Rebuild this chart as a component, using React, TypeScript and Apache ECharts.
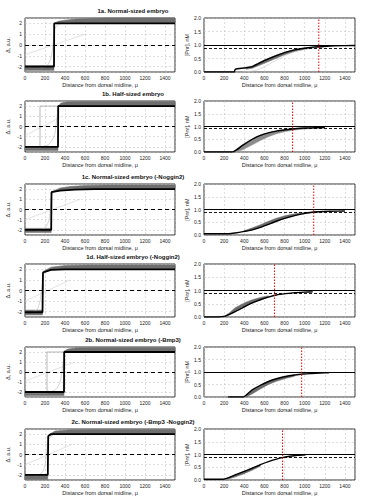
import React, { useEffect, useRef } from "react";
import * as echarts from "echarts";

// ---------- data ----------
const titles = [
  "1a. Normal-sized embryo",
  "1b. Half-sized embryo",
  "1c. Normal-sized embryo (-Noggin2)",
  "1d. Half-sized embryo (-Noggin2)",
  "2b. Normal-sized embryo (-Bmp3)",
  "2c. Normal-sized embryo (-Bmp3 -Noggin2)",
];
const xName = "Distance from dorsal midline, \u03bc";
const leftYName = "\u0394, a.u.";
const rightYName = "[Pnr], nM";
const xTickLabels = ["0", "200", "400", "600", "800", "1000", "1200", "1400"];
const deltaTickLabels = ["-2", "-1", "0", "1", "2"];
const concTickLabels = ["0.0", "0.5", "1.0", "1.5", "2.0"];
const deltaThreshold = 0;
const concSteady = 1.0;
const concRange = [0, 2];

// left column: Δ profiles (black = final)
const leftBlack = [
  [[0, -2], [290, -2], [292, 2], [1500, 2]],
  [[0, -2], [330, -2], [332, 2], [1500, 2]],
  [[0, -2], [262, -2], [265, 1.7], [350, 1.85], [500, 1.95], [700, 2], [1500, 2]],
  [[0, -2.05], [175, -2.05], [180, 1.7], [260, 1.95], [400, 2], [1500, 2]],
  [[0, -2], [390, -2], [392, 2], [1500, 2]],
  [[0, -2], [228, -2], [232, 1.8], [260, 2], [1500, 2]],
];
// [x, low, high]
const leftUpperBand = [
  [[292, 2, 2], [330, 2, 2.2], [400, 2, 2.3], [500, 2, 2.4], [650, 2, 2.45], [800, 2, 2.5], [1500, 2, 2.5]],
  [[332, 2, 2], [360, 2, 2.3], [420, 2, 2.42], [600, 2, 2.45], [1500, 2, 2.45]],
  [[265, 1.7, 1.75], [350, 1.85, 2.1], [450, 1.95, 2.25], [600, 2, 2.35], [800, 2, 2.4], [1500, 2, 2.4]],
  [[180, 1.7, 1.8], [260, 1.95, 2.2], [400, 2, 2.35], [600, 2, 2.4], [1500, 2, 2.4]],
  [[392, 2, 2.1], [430, 2, 2.3], [520, 2, 2.42], [700, 2, 2.45], [1500, 2, 2.45]],
  [[232, 1.8, 1.9], [300, 2, 2.3], [450, 2, 2.42], [700, 2, 2.45], [1500, 2, 2.45]],
];
const leftLowerBand = [
  [[0, -2.35, -1.9], [290, -2.35, -1.9]],
  [[0, -2.35, -2], [330, -2.35, -2]],
  [[0, -2.25, -1.85], [262, -2.25, -1.85]],
  [[0, -2.3, -1.85], [175, -2.3, -1.85]],
  [[0, -2.35, -2], [390, -2.35, -2]],
  [[0, -2.45, -2], [228, -2.45, -2]],
];
const leftInitial = [
  [[0, -0.9], [600, 1.0]],
  [[0, -0.9], [350, 0.9]],
  [[0, -1], [550, 1]],
  [[0, -1], [450, 1]],
  [[0, -0.9], [500, 1]],
  [[0, -1], [470, 1]],
];
const leftEarly = [
  [[150, -2.1], [220, -1.9], [260, -1.2], [280, 0], [295, 1.4], [330, 1.9], [450, 2.05]],
  [[150, -2], [230, -1.8], [290, -1], [315, 0.5], [330, 2]],
  [[120, -2.1], [200, -1.8], [240, -1], [258, 0.5], [270, 1.5], [330, 1.9]],
  [[60, -2.1], [120, -1.8], [150, -1], [170, 0.5], [185, 1.5], [240, 1.9]],
  [[220, -2], [300, -1.8], [350, -1], [375, 0.5], [390, 2]],
  [[100, -2.1], [170, -1.8], [200, -1], [220, 0.5], [235, 1.5], [280, 1.9]],
];
const leftMidStep = [
  null,
  [[0, -2.1], [150, -2.1], [150, 2], [330, 2]],
  null,
  null,
  [[0, -2.1], [220, -2.1], [220, 2], [390, 2]],
  null,
];

// right column: concentration profiles
const rightBlack = [
  [[0, 0], [300, 0], [310, 0.1], [400, 0.15], [480, 0.2], [600, 0.42], [700, 0.58], [800, 0.72], [900, 0.82], [1000, 0.88], [1100, 0.93], [1200, 0.95], [1300, 0.97], [1500, 0.98]],
  [[0, 0], [280, 0], [330, 0.1], [380, 0.25], [480, 0.5], [560, 0.65], [640, 0.75], [720, 0.82], [810, 0.87], [900, 0.91], [1000, 0.94], [1100, 0.95], [1200, 0.96]],
  [[0, 0.05], [250, 0.05], [310, 0.08], [400, 0.14], [480, 0.2], [560, 0.3], [640, 0.42], [720, 0.54], [810, 0.66], [900, 0.76], [980, 0.83], [1060, 0.88], [1140, 0.91], [1250, 0.93], [1400, 0.94]],
  [[0, 0], [140, 0], [210, 0.03], [310, 0.2], [410, 0.4], [480, 0.53], [560, 0.65], [640, 0.75], [720, 0.83], [810, 0.88], [900, 0.92], [1000, 0.94], [1080, 0.95]],
  [[240, 0], [390, 0], [420, 0.08], [477, 0.28], [560, 0.47], [640, 0.62], [720, 0.73], [810, 0.82], [900, 0.88], [980, 0.92], [1060, 0.94], [1150, 0.96], [1240, 0.97]],
  [[0, 0.03], [190, 0.03], [250, 0.1], [310, 0.2], [400, 0.34], [477, 0.46], [560, 0.6], [640, 0.72], [720, 0.82], [777, 0.88], [850, 0.93], [930, 0.97], [1010, 0.99]],
];
const rightBand = [
  [[420, 0.1, 0.18], [480, 0.14, 0.22], [600, 0.32, 0.45], [700, 0.48, 0.6], [800, 0.64, 0.73], [900, 0.76, 0.83], [1000, 0.84, 0.89], [1100, 0.9, 0.93], [1200, 0.93, 0.95]],
  [[300, 0, 0.05], [380, 0.08, 0.28], [480, 0.28, 0.52], [560, 0.45, 0.66], [640, 0.6, 0.76], [720, 0.72, 0.83], [810, 0.8, 0.88], [900, 0.86, 0.92], [1000, 0.9, 0.94], [1100, 0.93, 0.96], [1200, 0.95, 0.97]],
  [[400, 0.14, 0.17], [480, 0.2, 0.28], [560, 0.3, 0.4], [640, 0.42, 0.54], [720, 0.54, 0.66], [810, 0.66, 0.76], [900, 0.76, 0.83], [980, 0.83, 0.87], [1060, 0.88, 0.9], [1140, 0.91, 0.92]],
  [[210, 0.03, 0.05], [250, 0.08, 0.15], [310, 0.2, 0.35], [410, 0.4, 0.55], [480, 0.53, 0.65], [560, 0.65, 0.74], [640, 0.75, 0.8]],
  [[420, 0, 0.08], [477, 0.12, 0.28], [560, 0.32, 0.47], [640, 0.5, 0.62], [720, 0.63, 0.73], [810, 0.74, 0.82], [900, 0.83, 0.88]],
  [[190, 0.03, 0.03], [250, 0.05, 0.1], [310, 0.12, 0.2], [400, 0.25, 0.34], [477, 0.38, 0.46], [560, 0.54, 0.6]],
];
const rightEarly = [
  [[380, 0], [500, 0.05], [600, 0.2], [700, 0.4], [800, 0.6], [900, 0.75], [1000, 0.85]],
  null,
  null,
  null,
  null,
  null,
];
const redLineX = [1140, 880, 1090, 700, 970, 780];
const dashedLevel = [0.88, 0.93, 0.91, 0.88, null, 0.91];

// ---------- layout ----------
const rowTop = [18, 101, 184, 264, 347, 429];
const rowHeight = [54, 51, 51, 53, 50, 51];
const FONT = "Liberation Sans, Arial, sans-serif";

function bandSeries(axis: number, band: number[][], color: string) {
  return {
    type: "custom",
    xAxisIndex: axis,
    yAxisIndex: axis,
    data: band,
    encode: { x: 0, y: [1, 2] },
    silent: true,
    z: 1,
    renderItem: (params: any, api: any) => {
      if (params.dataIndexInside !== 0) return null;
      const top = band.map((p) => api.coord([p[0], p[2]]));
      const bot = band.slice().reverse().map((p) => api.coord([p[0], p[1]]));
      return {
        type: "polygon",
        shape: { points: top.concat(bot) },
        style: { fill: color, stroke: color, lineWidth: 0.5 },
      };
    },
  };
}

function lineSeries(axis: number, data: any, color: string, width: number, type: any = "solid", z = 2, extra: any = {}) {
  return {
    type: "line",
    xAxisIndex: axis,
    yAxisIndex: axis,
    data,
    symbol: "none",
    showSymbol: false,
    silent: true,
    z,
    color,
    lineStyle: { color, width, type },
    ...extra,
  };
}

function markSeries(axis: number, data: any[]) {
  return {
    type: "line",
    xAxisIndex: axis,
    yAxisIndex: axis,
    data: [],
    symbol: "none",
    silent: true,
    z: 5,
    markLine: { silent: true, symbol: "none", label: { show: false }, animation: false, data },
  };
}

function buildOption() {
  const grid: any[] = [];
  const xAxis: any[] = [];
  const yAxis: any[] = [];
  const series: any[] = [];
  const graphic: any[] = [];
  const splitLine = { show: true, lineStyle: { color: "#bdbdbd", type: [2, 2], width: 0.5 } };
  const labelStyle = { fontSize: 5, color: "#222", fontFamily: FONT };
  const nameStyle = { fontSize: 5.5, color: "#222", fontFamily: FONT };

  for (let r = 0; r < 6; r++) {
    graphic.push({
      type: "text",
      x: 133,
      y: rowTop[r] - 7,
      style: {
        text: titles[r],
        align: "center",
        verticalAlign: "middle",
        font: `bold 6px ${FONT}`,
        fill: "#111",
      },
    });
    const gl = 2 * r;
    const gr = 2 * r + 1;
    grid.push({ left: 25, width: 150, top: rowTop[r], height: rowHeight[r], show: true, borderColor: "#000", borderWidth: 0.8 });
    grid.push({ left: 204, width: 151, top: rowTop[r], height: rowHeight[r], show: true, borderColor: "#000", borderWidth: 0.8 });

    for (const g of [gl, gr]) {
      xAxis.push({
        gridIndex: g,
        type: "value",
        min: 0,
        max: 1500,
        interval: 200,
        name: xName,
        nameLocation: "middle",
        nameGap: 10,
        nameTextStyle: nameStyle,
        axisLine: { show: false },
        axisTick: { show: false },
        axisLabel: {
          ...labelStyle,
          margin: 3,
          showMaxLabel: false,
          formatter: (v: number) => xTickLabels[Math.round(v / 200)] ?? "",
        },
        splitLine,
      });
    }
    yAxis.push({
      gridIndex: gl,
      type: "value",
      min: -2.5,
      max: 2.5,
      splitNumber: 5,
      name: leftYName,
      nameLocation: "middle",
      nameGap: 14,
      nameTextStyle: nameStyle,
      axisLine: { show: false },
      axisTick: { show: false },
      axisLabel: {
        ...labelStyle,
        margin: 3,
        showMinLabel: false,
        showMaxLabel: false,
        formatter: (v: number) => {
          const i = deltaTickLabels.indexOf(String(v));
          return i >= 0 ? deltaTickLabels[i] : "";
        },
      },
      splitLine,
    });
    yAxis.push({
      gridIndex: gr,
      type: "value",
      min: concRange[0],
      max: concRange[1],
      interval: 0.5,
      name: rightYName,
      nameLocation: "middle",
      nameGap: 12,
      nameTextStyle: nameStyle,
      axisLine: { show: false },
      axisTick: { show: false },
      axisLabel: {
        ...labelStyle,
        margin: 3,
        formatter: (v: number) => concTickLabels[Math.round(v * 2)] ?? "",
      },
      splitLine,
    });

    // ----- left plot -----
    series.push(lineSeries(gl, leftInitial[r], "#cfcfcf", 0.6, "solid", 2));
    series.push(lineSeries(gl, leftEarly[r], "#b8b8b8", 0.6, "solid", 2, { smooth: 0.3 }));
    if (leftMidStep[r]) series.push(lineSeries(gl, leftMidStep[r], "#9a9a9a", 0.7, "solid", 2));
    series.push(bandSeries(gl, leftUpperBand[r], "#6e6e6e"));
    series.push(bandSeries(gl, leftLowerBand[r], "#6e6e6e"));
    series.push(lineSeries(gl, leftBlack[r], "#000", 1.8, "solid", 4));
    series.push(markSeries(gl, [{ yAxis: deltaThreshold, lineStyle: { color: "#000", width: 1.2, type: [4, 3] } }]));

    // ----- right plot -----
    if (rightEarly[r]) series.push(lineSeries(gr, rightEarly[r], "#c4c4c4", 0.6, "solid", 2, { smooth: 0.3 }));
    series.push(bandSeries(gr, rightBand[r], r === 1 ? "#8c8c8c" : "#6a6a6a"));
    series.push(lineSeries(gr, rightBlack[r], "#000", 1.4, "solid", 4, { smooth: 0.2 }));
    const ml: any[] = [{ yAxis: concSteady, lineStyle: { color: "#000", width: 1.1, type: "solid" } }];
    if (dashedLevel[r] != null) ml.push({ yAxis: dashedLevel[r], lineStyle: { color: "#000", width: 0.9, type: [3, 2] } });
    series.push(markSeries(gr, ml));
    series.push(
      lineSeries(
        gr,
        [[redLineX[r], concRange[0]], [redLineX[r], concRange[1]]],
        "#ff0000",
        1,
        [1.5, 1.5],
        6
      )
    );
  }

  return {
    animation: false,
    backgroundColor: "#fff",
    textStyle: { fontFamily: FONT },
    grid,
    xAxis,
    yAxis,
    series,
    graphic,
  };
}

export default function App() {
  const ref = useRef<HTMLDivElement>(null);
  useEffect(() => {
    if (!ref.current) return;
    const chart = echarts.init(ref.current, undefined, { renderer: "svg" });
    chart.setOption(buildOption() as any);
    return () => chart.dispose();
  }, []);
  return (
    <div
      ref={ref}
      style={{ position: "fixed", left: 0, top: 0, width: 373, height: 500, background: "#fff" }}
    />
  );
}
